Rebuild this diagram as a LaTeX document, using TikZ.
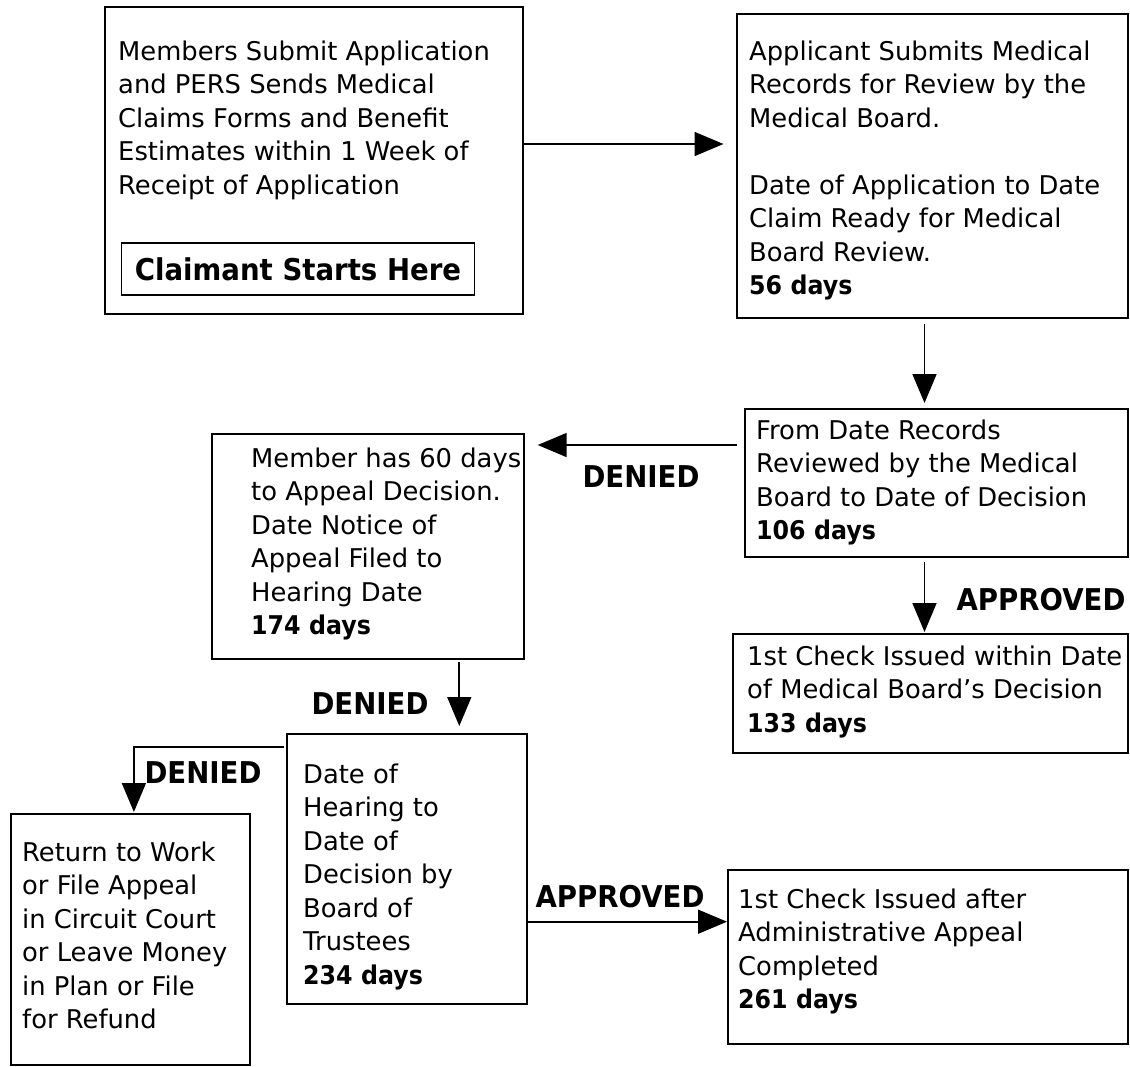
\documentclass[tikz,border=0pt]{standalone}
\usepackage{fontspec}
\setmainfont{DejaVu Sans}[BoldFeatures={FakeStretch=0.92}]
\usetikzlibrary{arrows.meta, positioning, calc}
\tikzstyle{box} = [draw, rectangle, line width=2pt, inner sep=0pt, anchor=north west]
\tikzstyle{txt} = [align=left, inner sep=0pt, anchor=north west, font=\fontsize{25.8}{33.5}\selectfont]
\tikzstyle{verdict} = [anchor=base, inner sep=0pt, font=\fontsize{30}{34}\selectfont\bfseries]
\tikzstyle{arrow} = [line width=1.7pt, -{Triangle[length=29pt,width=24pt]}]

\begin{document}
\begin{tikzpicture}[x=1pt, y=-1pt]
    \useasboundingbox (0,0) rectangle (1130,1066);

    % Application
    \node[box, minimum width=418pt, minimum height=307pt] (b1) at (104,6) {};
    \node[txt] (t1) at (118,40.5) {Members Submit Application\\and PERS Sends Medical\\Claims Forms and Benefit\\Estimates within 1 Week of\\Receipt of Application};
    \node[draw, line width=1.5pt, minimum width=353pt, minimum height=52pt, inner sep=0pt, font=\fontsize{30}{34}\selectfont\bfseries] (start) at (298,269) {Claimant Starts Here};

    % Medical records
    \node[box, minimum width=391pt, minimum height=304pt] (b2) at (736,13) {};
    \node[txt] (t2) at (749,40.5) {Applicant Submits Medical\\Records for Review by the\\Medical Board.\\[33.5pt]Date of Application to Date\\Claim Ready for Medical\\Board Review.\\\textbf{56 days}};

    % Medical board decision
    \node[box, minimum width=383pt, minimum height=148pt] (b3) at (744,408) {};
    \node[txt] (t3) at (756,419.2) {From Date Records\\Reviewed by the Medical\\Board to Date of Decision\\\textbf{106 days}};

    % First check
    \node[box, minimum width=395pt, minimum height=119pt] (b8) at (732,633) {};
    \node[txt] (t8) at (747,645.5) {1st Check Issued within Date\\of Medical Board’s Decision\\\textbf{133 days}};

    % Appeal
    \node[box, minimum width=312pt, minimum height=225pt] (b4) at (211,433) {};
    \node[txt] (t4) at (251,447.5) {Member has 60 days\\to Appeal Decision.\\Date Notice of\\Appeal Filed to\\Hearing Date\\\textbf{174 days}};

    % Hearing
    \node[box, minimum width=240pt, minimum height=270pt] (b5) at (286,733) {};
    \node[txt] (t5) at (303,763.5) {Date of\\Hearing to\\Date of\\Decision by\\Board of\\Trustees\\\textbf{234 days}};

    % Outcomes
    \node[box, minimum width=239pt, minimum height=251pt] (b6) at (10,813) {};
    \node[txt] (t6) at (22,841.2) {Return to Work\\or File Appeal\\in Circuit Court\\or Leave Money\\in Plan or File\\for Refund};
    \node[box, minimum width=400pt, minimum height=174pt] (b7) at (727,869) {};
    \node[txt] (t7) at (738,888.5) {1st Check Issued after\\Administrative Appeal\\Completed\\\textbf{261 days}};

    % Labels
    \node[verdict] (no1) at (641,487) {DENIED};
    \node[verdict] (no2) at (370,714) {DENIED};
    \node[verdict] (no3) at (203,783) {DENIED};
    \node[verdict] (yes1) at (1041,610) {APPROVED};
    \node[verdict] (yes2) at (620,907) {APPROVED};

    % Connectors
    \draw[arrow, shorten >=12.5pt] ([yshift=16.5pt]b1.east) -- ([yshift=16.5pt]b1.east -| b2.west);
    \draw[arrow, shorten <=5pt, shorten >=5pt] ([xshift=-8pt]b2.south) -- ([xshift=-8pt]b2.south |- b3.north);
    \draw[arrow, shorten <=7.5pt, shorten >=12.7pt] ([yshift=38pt]b3.west) -- ([yshift=38pt]b3.west -| b4.east);
    \draw[arrow, shorten <=4pt, shorten >=1pt] ([xshift=-12pt]b3.south) -- ([xshift=-12pt]b3.south |- b8.north);
    \draw[arrow, shorten <=2pt, shorten >=7pt] ([xshift=91.3pt]b4.south) -- ([xshift=91.3pt]b4.south |- b5.north);
    \draw[arrow, shorten <=2pt, shorten >=1pt] ([yshift=-14pt]b5.north west) -| ([xshift=3.4pt]b6.north);
    \draw[arrow] ([yshift=-52.7pt]b5.east) -- ([yshift=-52.7pt]b5.east -| b7.west);
\end{tikzpicture}
\end{document}
